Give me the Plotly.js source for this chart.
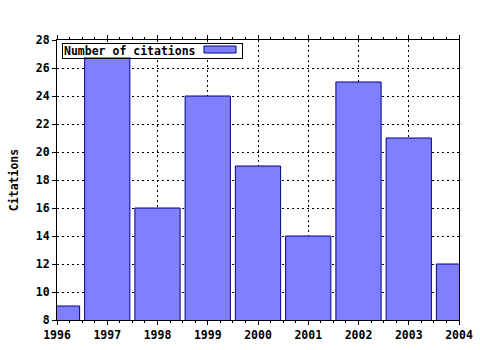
<!DOCTYPE html>
<html>
<head>
<meta charset="utf-8">
<script src="https://cdn.plot.ly/plotly-3.0.1.min.js"></script>
<style>html,body{margin:0;padding:0;background:#fff;}#chart{width:480px;height:350px;}</style>
</head>
<body>
<div id="chart"></div>
<script>
const years = [1996, 1997, 1998, 1999, 2000, 2001, 2002, 2003, 2004];
const citations = [9, 27, 16, 24, 19, 14, 25, 21, 12];
const seriesName = "Number of citations";
const yTitle = "Citations";

const FONT = {family: "DejaVu Sans Mono, Liberation Mono, monospace", size: 11.5, color: "#000", weight: "bold"};

const trace = {
  type: "bar",
  x: years,
  y: citations,
  width: 0.9,
  name: seriesName,
  marker: {color: "#8080ff", line: {color: "#00008b", width: 1}},
  showlegend: false,
  hoverinfo: "none"
};

const layout = {
  width: 480, height: 350,
  margin: {l: 57, r: 21, t: 40, b: 30},
  paper_bgcolor: "#fff", plot_bgcolor: "#fff",
  font: FONT,
  xaxis: {
    range: [1996, 2004], dtick: 1, tick0: 1996,
    showline: true, linecolor: "#000", linewidth: 1, mirror: "ticks",
    ticks: "outside", ticklen: 4, tickcolor: "#000", tickwidth: 1,
    minor: {dtick: 0.25, ticks: "outside", ticklen: 2, tickcolor: "#000", showgrid: false},
    showgrid: true, gridcolor: "#000", gridwidth: 1, griddash: "2px,3px",
    zeroline: false, tickfont: FONT, fixedrange: true
  },
  yaxis: {
    range: [8, 28], dtick: 2, tick0: 8,
    showline: true, linecolor: "#000", linewidth: 1, mirror: true,
    ticks: "outside", ticklen: 4, tickcolor: "#000", tickwidth: 1,
    showgrid: true, gridcolor: "#000", gridwidth: 1, griddash: "2px,3px",
    zeroline: false, tickfont: FONT, fixedrange: true,
    title: {text: yTitle, font: FONT, standoff: 14}
  },
  annotations: [{
    xref: "paper", yref: "paper",
    x: 5/402, y: 1 - 3/280, xanchor: "left", yanchor: "top",
    text: seriesName, showarrow: false, align: "left",
    width: 177, height: 12, borderpad: 1,
    bordercolor: "#000", borderwidth: 1, bgcolor: "rgba(0,0,0,0)",
    font: FONT
  }],
  shapes: [
    {
      type: "rect", xref: "paper", yref: "paper", layer: "above",
      x0: 5/402, x1: 186/402, y0: 1 - 17/280, y1: 1 - 3/280,
      fillcolor: "#fff", line: {width: 0}
    },
    {
      type: "rect", xref: "paper", yref: "paper", layer: "above",
      x0: 147/402, x1: 179/402, y0: 1 - 13/280, y1: 1 - 6/280,
      fillcolor: "#8080ff", line: {color: "#00008b", width: 1}
    }
  ]
};

Plotly.newPlot("chart", [trace], layout, {staticPlot: true, displayModeBar: false});
</script>
</body>
</html>
